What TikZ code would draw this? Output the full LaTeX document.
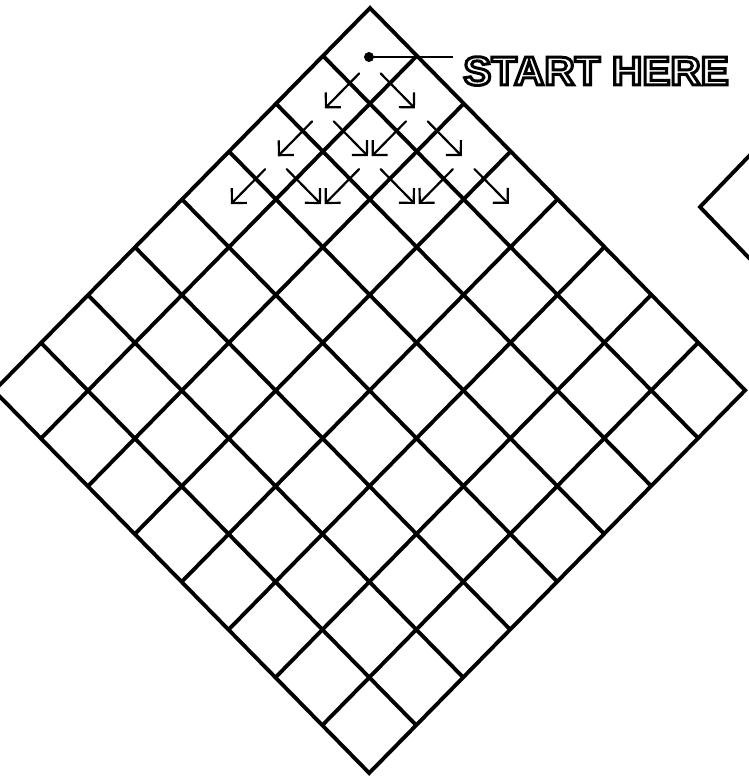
\documentclass[tikz,border=0pt]{standalone}
\usepackage{fontspec}
\setmainfont{Liberation Sans}
\usepackage{graphicx}
\usetikzlibrary{arrows.meta}
\newcommand\hollowtext[1]{\special{pdf:literal direct 1 Tr 1.7 w}#1\special{pdf:literal direct 0 Tr}}
\tikzset{
  gridline/.style={line width=2.2pt, line join=miter},
  walk/.style={line width=1.25pt, line cap=round,
    -{Straight Barb[length=6pt,width=12pt,line width=1.25pt]}},
  leader/.style={line width=1.3pt},
  lbl/.style={inner sep=0pt, font=\fontsize{23}{27}\selectfont\bfseries},
}
\begin{document}
\begin{tikzpicture}[x=0.02cm,y=-0.02cm]
\useasboundingbox (0,0) rectangle (749,776);
\clip (0,0) rectangle (749,776);
% main diamond grid (8 x 8)
\begin{scope}[shift={(370,8)}, x={(0.938cm,-0.956cm)}, y={(-0.94cm,-0.957cm)}]
  \foreach \k in {1,...,7}{
    \draw[gridline] (\k,0) -- (\k,8);
    \draw[gridline] (0,\k) -- (8,\k);
  }
  \draw[gridline] (0,0) -- (8,0) -- (8,8) -- (0,8) -- cycle;
  % arrows showing the moves from the first cells
  \foreach \a/\b in {0/0,1/0,0/1,2/0,1/1,0/2}{
    \draw[walk] (\a+0.80,\b+0.57) -- (\a+1.53,\b+0.57);
    \draw[walk] (\a+0.57,\b+0.80) -- (\a+0.57,\b+1.53);
  }
\end{scope}
% partial diamond at the right edge
\draw[gridline] (762,142.5) -- (700,207) -- (762,271.5);
% start marker and label
\coordinate (start) at (369,57);
\coordinate (leadend) at (453,57);
\fill (start) circle[radius=0.1cm];
\draw[leader] (start) -- (leadend);
\node[lbl, anchor=base west] (starthere) at (463,85)
  {\scalebox{1.04}[1]{\hollowtext{START HERE}}};
\end{tikzpicture}
\end{document}
